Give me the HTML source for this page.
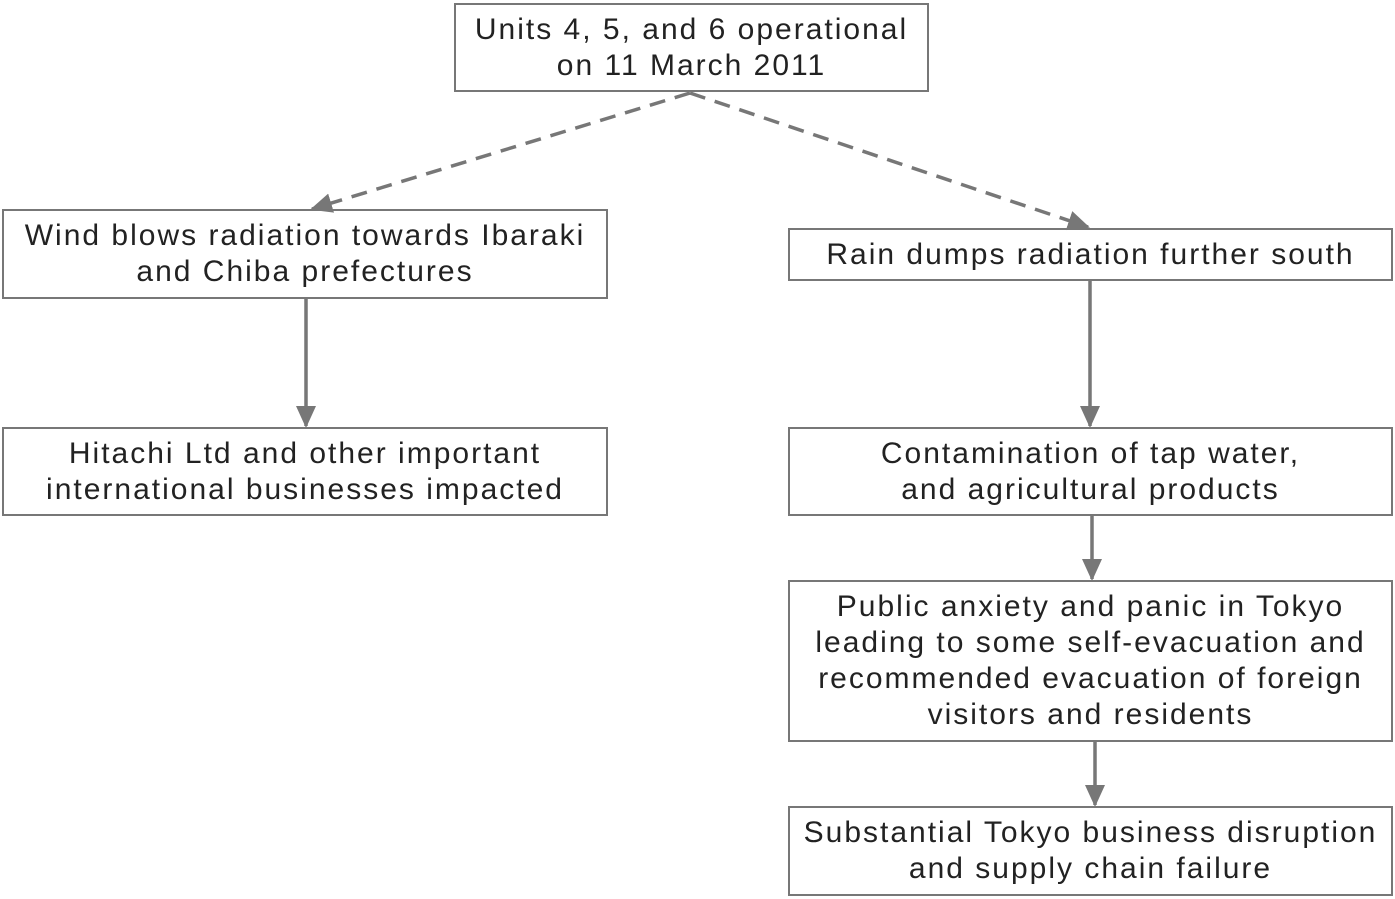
<!DOCTYPE html>
<html><head><meta charset="utf-8"><style>
body{margin:0;width:1395px;height:899px;background:#fff;position:relative;overflow:hidden;font-family:"Liberation Sans",sans-serif;}
.b{position:absolute;box-sizing:border-box;border:2px solid #777;display:flex;align-items:center;justify-content:center;text-align:center;color:#222;font-size:30px;line-height:36px;letter-spacing:2px;white-space:nowrap;}
svg{position:absolute;left:0;top:0;}
</style></head><body>
<svg width="1395" height="899">
<defs>
<marker id="m" markerWidth="22" markerHeight="20" refX="20" refY="10" orient="auto" markerUnits="userSpaceOnUse"><path d="M0,0 L22,10 L0,20 z" fill="#777"/></marker></defs>
<g stroke="#777" stroke-width="3.5" fill="none">
<line x1="690" y1="93" x2="312" y2="209" stroke-dasharray="16,10" marker-end="url(#m)"/>
<line x1="690" y1="93" x2="1088" y2="227" stroke-dasharray="16,10" marker-end="url(#m)"/>
<line x1="306" y1="299" x2="306" y2="426" marker-end="url(#m)"/>
<line x1="1090" y1="281" x2="1090" y2="426" marker-end="url(#m)"/>
<line x1="1092" y1="516" x2="1092" y2="579" marker-end="url(#m)"/>
<line x1="1095" y1="742" x2="1095" y2="805" marker-end="url(#m)"/>
</g></svg>
<div class="b" style="left:454px;top:3px;width:475px;height:89px">Units 4, 5, and 6 operational<br>on 11 March 2011</div>
<div class="b" style="left:2px;top:209px;width:606px;height:90px">Wind blows radiation towards Ibaraki<br>and Chiba prefectures</div>
<div class="b" style="left:788px;top:228px;width:605px;height:53px">Rain dumps radiation further south</div>
<div class="b" style="left:2px;top:427px;width:606px;height:89px">Hitachi Ltd and other important<br>international businesses impacted</div>
<div class="b" style="left:788px;top:427px;width:605px;height:89px">Contamination of tap water,<br>and agricultural products</div>
<div class="b" style="left:788px;top:580px;width:605px;height:162px">Public anxiety and panic in Tokyo<br>leading to some self-evacuation and<br>recommended evacuation of foreign<br>visitors and residents</div>
<div class="b" style="left:788px;top:806px;width:605px;height:90px">Substantial Tokyo business disruption<br>and supply chain failure</div>
</body></html>
